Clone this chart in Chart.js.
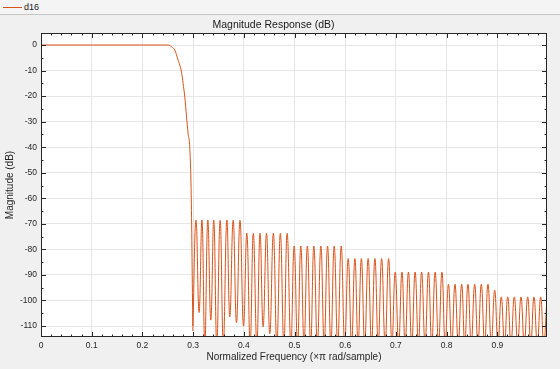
<!DOCTYPE html>
<html>
<head>
<meta charset="utf-8">
<script src="https://cdn.jsdelivr.net/npm/chart.js@4.4.1/dist/chart.umd.min.js"></script>
<style>
html,body{margin:0;padding:0;background:#f0f0f0;}
#wrap{position:relative;width:560px;height:369px;overflow:hidden;}
canvas{position:absolute;left:0;top:0;}
#head{position:absolute;left:0;top:0;width:560px;height:14px;border-bottom:1px solid #c6c6c6;background:#f4f4f4;
  font:9px "Liberation Sans",Arial,sans-serif;color:#1a1a1a;}
#head .sw{position:absolute;left:3px;top:7px;width:19px;border-top:1px solid #D95319;}
#head .lb{position:absolute;left:24px;top:2px;}
</style>
</head>
<body>
<div id="wrap">
<canvas id="chart" width="560" height="369"></canvas>
<div id="head"><span class="sw"></span><span class="lb">d16</span></div>
</div>
<script>
/* ---------- DATA ---------- */

// passband + transition band, normalized freq (x pi rad/sample) and dB
const passFreq = [0, 0.245, 0.2506, 0.2575, 0.2639, 0.2704, 0.2771, 0.2802, 0.2836, 0.2870, 0.2901, 0.2935, 0.2964, 0.2994];
const passMag  = [0, 0, 0, -0.7, -2, -5.9, -10.5, -15, -20.3, -28, -34.6, -40.5, -60, -110];

// stopband lobe tops
const peakFreq = [
  0.3057, 0.3175, 0.3290, 0.3408, 0.3533, 0.3665, 0.3790, 0.3925,
  0.4060, 0.4188, 0.4320, 0.4448, 0.4583, 0.4721, 0.4855,
  0.4993, 0.5125, 0.5254, 0.5382, 0.5520, 0.5652, 0.5783, 0.5921,
  0.6059, 0.6191, 0.6319, 0.6452, 0.6586, 0.6718, 0.6856,
  0.6986, 0.7119, 0.7247, 0.7379, 0.7507, 0.7642, 0.7774, 0.7908,
  0.8036, 0.8165, 0.8297, 0.8421, 0.8553, 0.8684, 0.8816, 0.8948,
  0.9078, 0.9205, 0.9335, 0.9467, 0.9599, 0.9723, 0.9856
];
const peakMag = [
  -68.6, -68.6, -68.6, -68.6, -68.6, -68.6, -68.6, -68.6,
  -73.7, -73.7, -73.7, -73.7, -73.7, -73.7, -73.7,
  -78.7, -78.7, -78.7, -78.7, -78.7, -78.7, -78.7, -78.7,
  -83.6, -83.6, -83.6, -83.6, -83.6, -83.6, -83.6,
  -88.9, -88.9, -88.9, -88.9, -88.9, -88.9, -88.9, -88.9,
  -93.7, -93.7, -93.7, -93.7, -93.7, -93.7, -93.7, -96,
  -98.6, -98.6, -98.6, -98.6, -98.6, -98.6, -98.6
];

// stopband nulls (first one is the end of the transition, then one after each lobe)
const nullFreq = [
  0.2994,
  0.3118, 0.3231, 0.3349, 0.3467, 0.3596, 0.3724, 0.3856, 0.3994,
  0.4125, 0.4257, 0.4381, 0.4513, 0.4652, 0.4790, 0.4928,
  0.5060, 0.5188, 0.5319, 0.5451, 0.5585, 0.5717, 0.5852, 0.5990,
  0.6126, 0.6254, 0.6384, 0.6519, 0.6651, 0.6787, 0.6921,
  0.7054, 0.7182, 0.7312, 0.7444, 0.7575, 0.7707, 0.7841, 0.7971,
  0.8101, 0.8230, 0.8358, 0.8486, 0.8618, 0.8750, 0.8881, 0.9013,
  0.9142, 0.9270, 0.9402, 0.9532, 0.9661, 0.9789, 0.9915
];
const nullMag = [
  -112,
  -104.7, -117, -107.7, -117, -117, -106.4, -108.7, -110,
  -117, -117, -110.3, -113, -117, -117, -117,
  -117, -117, -117, -117, -117, -117, -117, -117,
  -117, -117, -117, -117, -117, -117, -117,
  -117, -117, -117, -117, -117, -117, -117, -117,
  -117, -117, -117, -117, -117, -117, -117, -117,
  -117, -117, -117, -117, -117, -117, -117
];

// last sample at the right edge
const edgeFreq = [0.998];
const edgeMag = [-99];

const xTicks = [0, 0.1, 0.2, 0.3, 0.4, 0.5, 0.6, 0.7, 0.8, 0.9];
const xTickLabels = ["0", "0.1", "0.2", "0.3", "0.4", "0.5", "0.6", "0.7", "0.8", "0.9"];
const yTicks = [-110, -100, -90, -80, -70, -60, -50, -40, -30, -20, -10, 0];

/* ---------- BUILD POINTS ---------- */

const passPts = passFreq.map((f, i) => ({x: f, y: passMag[i]}));

const stopPts = [{x: nullFreq[0], y: nullMag[0]}];
for (let i = 0; i < peakFreq.length; i++) {
  stopPts.push({x: peakFreq[i], y: peakMag[i]});
  stopPts.push({x: nullFreq[i + 1], y: nullMag[i + 1]});
}
edgeFreq.forEach((f, i) => stopPts.push({x: f, y: edgeMag[i]}));

/* ---------- PLOT FRAME + INNER TICKS ---------- */

const frame = {
  id: "frame",
  beforeDraw(chart) {
    const {ctx, chartArea: a} = chart;
    ctx.save();
    ctx.fillStyle = "#ffffff";
    ctx.fillRect(a.left, a.top, a.right - a.left, a.bottom - a.top);
    ctx.restore();
  },
  afterDraw(chart) {
    const {ctx, chartArea: a, scales: {x, y}} = chart;
    ctx.save();
    ctx.strokeStyle = "#262626";
    ctx.lineWidth = 1;
    ctx.beginPath();
    for (let i = 0; i <= 49; i++) {
      const px = Math.round(x.getPixelForValue(i * 0.02)) + 0.5;
      const len = i % 5 === 0 ? 5 : 2.5;
      ctx.moveTo(px, a.bottom); ctx.lineTo(px, a.bottom - len);
      ctx.moveTo(px, a.top); ctx.lineTo(px, a.top + len);
    }
    for (let v = -110; v <= 0; v += 5) {
      const py = Math.round(y.getPixelForValue(v)) + 0.5;
      const len = v % 10 === 0 ? 5 : 2.5;
      ctx.moveTo(a.left, py); ctx.lineTo(a.left + len, py);
      ctx.moveTo(a.right, py); ctx.lineTo(a.right - len, py);
    }
    ctx.stroke();
    ctx.strokeRect(a.left + 0.5, a.top + 0.5, a.right - a.left - 1, a.bottom - a.top - 1);
    ctx.restore();
  }
};

/* ---------- CHART ---------- */

Chart.defaults.font.family = '"Liberation Sans", Arial, Helvetica, sans-serif';
Chart.defaults.color = "#262626";

new Chart(document.getElementById("chart"), {
  type: "line",
  data: {
    datasets: [{
      label: "d16",
      data: passPts,
      borderColor: "#D95319",
      borderWidth: 1,
      pointRadius: 0,
      cubicInterpolationMode: "monotone",
      fill: false
    }, {
      label: "d16 stop",
      data: stopPts,
      borderColor: "#D95319",
      borderWidth: 1,
      pointRadius: 0,
      tension: 0.45,
      capBezierPoints: false,
      fill: false
    }]
  },
  options: {
    responsive: false,
    animation: false,
    devicePixelRatio: 1,
    layout: {padding: {left: 0, right: 13, top: 0, bottom: 0}},
    plugins: {
      legend: {display: false},
      tooltip: {enabled: false},
      title: {
        display: true,
        text: "Magnitude Response (dB)",
        color: "#1a1a1a",
        font: {size: 10.5, weight: "normal", lineHeight: 1.2},
        padding: {top: 18.5, bottom: 1.9}
      }
    },
    scales: {
      x: {
        type: "linear",
        min: 0,
        max: 0.998,
        afterBuildTicks: s => { s.ticks = xTicks.map(v => ({value: v})); },
        afterFit: s => { s.height = 32; },
        ticks: {
          font: {size: 8.5},
          padding: 4,
          maxRotation: 0,
          autoSkip: false,
          callback: (v, i) => xTickLabels[i]
        },
        grid: {color: "#e6e6e6", drawTicks: false},
        border: {display: false},
        title: {
          display: true,
          text: "Normalized Frequency (\u00d7\u03c0 rad/sample)",
          font: {size: 10},
          padding: {top: 0, bottom: 6}
        }
      },
      y: {
        type: "linear",
        min: -114.3,
        max: 4.7,
        afterBuildTicks: s => { s.ticks = yTicks.map(v => ({value: v})); },
        afterFit: s => { s.width = 41; },
        ticks: {font: {size: 8.5}, padding: 4, autoSkip: false},
        grid: {color: "#e6e6e6", drawTicks: false},
        border: {display: false},
        title: {
          display: true,
          text: "Magnitude (dB)",
          font: {size: 10},
          padding: {top: 4, bottom: 0}
        }
      }
    }
  },
  plugins: [frame]
});
</script>
</body>
</html>
